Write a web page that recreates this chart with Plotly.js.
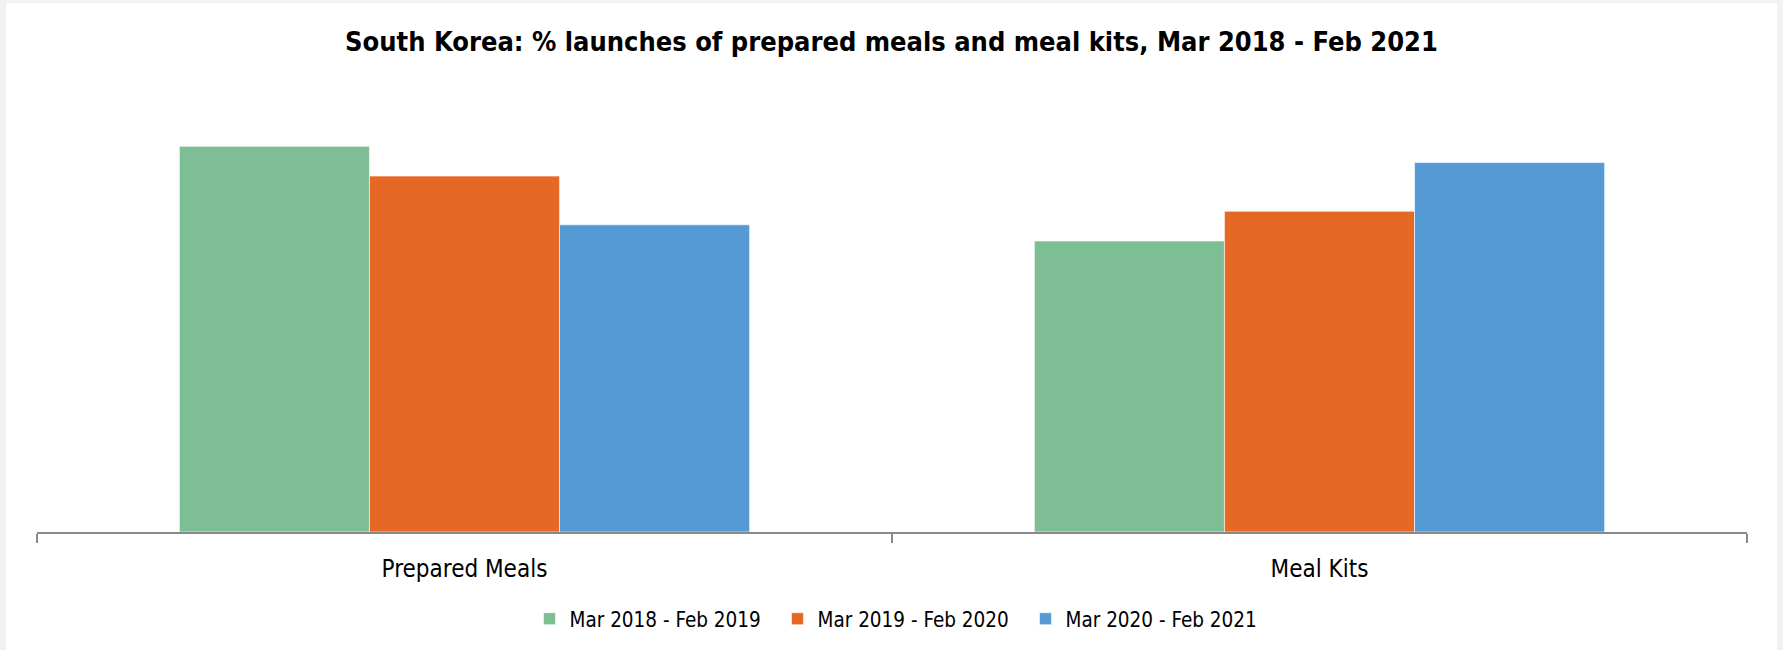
<!DOCTYPE html>
<html>
<head>
<meta charset="utf-8">
<script src="https://cdn.plot.ly/plotly-3.0.1.min.js"></script>
<style>
  html, body { margin: 0; padding: 0; background: #f2f2f2; width: 1783px; height: 650px; overflow: hidden; }
  #chart { position: absolute; left: 6px; top: 3px; width: 1771px; height: 647px; background: #ffffff; }
</style>
</head>
<body>
<div id="chart"></div>
<script>
const categories = ["Prepared Meals", "Meal Kits"];
const seriesNames = ["Mar 2018 - Feb 2019", "Mar 2019 - Feb 2020", "Mar 2020 - Feb 2021"];
const series2018 = [57.0, 43.0];
const series2019 = [52.6, 47.4];
const series2020 = [45.4, 54.6];
const seriesColors = ["#7DBE94", "#E66825", "#559AD4"];

const FONT = "'DejaVu Sans Condensed', 'DejaVu Sans', sans-serif";
const allValues = [series2018, series2019, series2020];

const traces = allValues.map((vals, i) => ({
  type: "bar",
  name: seriesNames[i],
  x: categories,
  y: vals,
  marker: { color: seriesColors[i], line: { color: "rgba(255,255,255,0.6)", width: 1 } },
  hoverinfo: "x+y+name"
}));

const layout = {
  width: 1771,
  height: 647,
  paper_bgcolor: "#ffffff",
  plot_bgcolor: "#ffffff",
  margin: { l: 31, r: 30, t: 123, b: 117, pad: 0 },
  barmode: "group",
  bargap: 0.333,
  bargroupgap: 0,
  title: {
    text: "<b>South Korea: % launches of prepared meals and meal kits, Mar 2018 - Feb 2021</b>",
    font: { family: FONT, size: 27, color: "#000000" },
    x: 0.5, xanchor: "center",
    y: 0.94, yref: "container", yanchor: "middle"
  },
  xaxis: {
    type: "category",
    showline: true,
    linecolor: "#898989",
    linewidth: 1.5,
    ticks: "outside",
    tickson: "boundaries",
    ticklen: 9,
    tickwidth: 1.5,
    tickcolor: "#898989",
    ticklabelstandoff: 14,
    tickfont: { family: FONT, size: 24, color: "#000000" },
    showgrid: false,
    zeroline: false,
    fixedrange: true
  },
  yaxis: {
    range: [0, 60],
    visible: false,
    showgrid: false,
    zeroline: false,
    fixedrange: true
  },
  showlegend: true,
  legend: {
    orientation: "h",
    x: 0.288, xanchor: "left",
    y: -0.211, yanchor: "middle",
    font: { family: FONT, size: 20.5, color: "#000000" },
    entrywidth: 203,
    entrywidthmode: "pixels",
    bgcolor: "rgba(0,0,0,0)",
    itemclick: false,
    itemdoubleclick: false
  }
};

Plotly.newPlot("chart", traces, layout, { displayModeBar: false, responsive: false });
</script>
</body>
</html>
